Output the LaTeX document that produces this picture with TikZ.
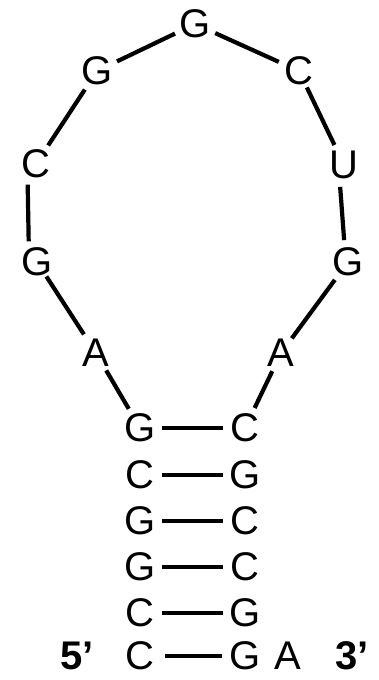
\documentclass[tikz,border=0pt]{standalone}
\usepackage{fontspec}
\setmainfont{Liberation Sans}
\begin{document}
\begin{tikzpicture}[x=1pt,y=-1pt,
  base/.style={circle,inner sep=0pt,minimum size=44pt,font=\fontsize{40}{40}\selectfont},
  low/.style={inner sep=0pt,font=\fontsize{40}{40}\selectfont},
  lbl/.style={inner sep=0pt,font=\fontsize{40}{40}\selectfont\bfseries},
  bond/.style={line width=4.2pt},
  bb/.style={line width=3.2pt}]
\useasboundingbox (0,0) rectangle (379,680);
% loop
\node[base] (g1) at (97,71) {G};
\node[base] (g2) at (195,24) {G};
\node[base] (c1) at (299,71) {C};
\node[base] (c2) at (36,164) {C};
\node[base] (u1) at (344,165) {U};
\node[base] (g3) at (37,262) {G};
\node[base] (g4) at (348,262) {G};
\node[base] (a1) at (96,353) {A};
\node[base] (a2) at (281,353) {A};
% stem
\node[base] (l1) at (140,428) {G};
\node[base] (r1) at (245,428) {C};
\node[base] (l2) at (140,475) {C};
\node[base] (r2) at (245,475) {G};
\node[base] (l3) at (140,521) {G};
\node[base] (r3) at (245,521) {C};
\node[base] (l4) at (140,567) {G};
\node[base] (r4) at (245,567) {C};
\node[base] (l5) at (140,613) {C};
\node[base] (r5) at (245,613) {G};
\node[low] (l6) at (140,656) {C};
\node[low] (r6) at (245,656) {G};
\node[low] (a3) at (288,656) {A};
\node[lbl] (p5) at (77,656) {5’};
\node[lbl] (p3) at (352,656) {3’};
% backbone
\draw[bond] (g1) -- (g2);
\draw[bond] (g2) -- (c1);
\draw[bond] (g1) -- (c2);
\draw[bond,shorten <=-4pt] (c1) -- (u1);
\draw[bond] (c2.-112) -- (g3.112);
\draw[bond] (u1.-100) -- (g4.100);
\draw[bond,shorten <=-5pt] (g3) -- (a1);
\draw[bond,shorten >=-4pt] (g4) -- (a2);
\draw[bond,shorten <=-2pt] (a1) -- (l1);
\draw[bond,shorten <=-2pt] (a2) -- (r1);
% base pairs
\foreach \i in {1,...,5} {\draw[bb] (l\i) -- (r\i);}
\draw[bb,shorten <=10pt,shorten >=7pt] (l6) -- (r6);
\end{tikzpicture}
\end{document}
